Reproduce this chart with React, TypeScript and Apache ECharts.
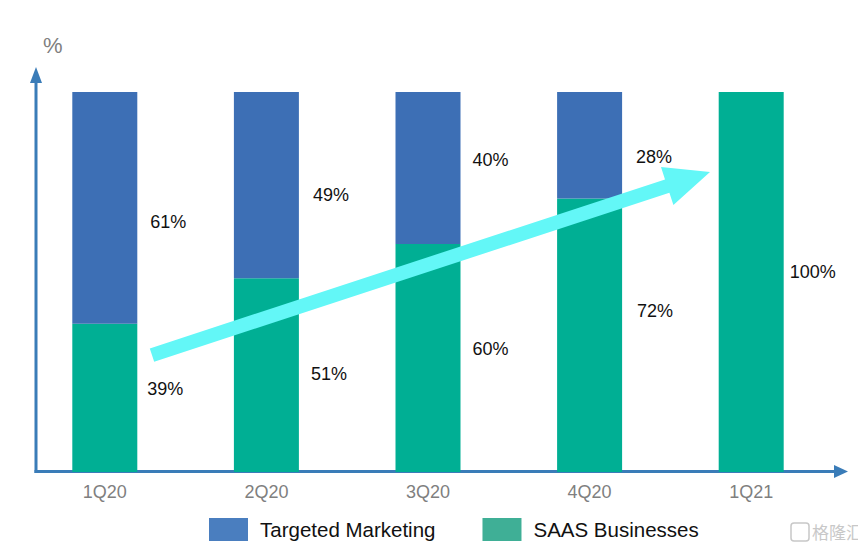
import React, { useEffect, useRef } from "react";
import * as echarts from "echarts";

const categories = ["1Q20", "2Q20", "3Q20", "4Q20", "1Q21"];
const saasBusinesses = [39, 51, 60, 72, 100];
const targetedMarketing = [61, 49, 40, 28, 0];
const seriesNames = ["Targeted Marketing", "SAAS Businesses"];
// label nudges (styling only)
const saasLabelOffsets = [[-2, -9], [0, -1], [0, -9], [3, -24], [-6, -10]];
const marketingLabelOffsets = [[1, 14], [2, 10], [0, -8], [2, 12], [0, 0]];

export default function App() {
  const ref = useRef<HTMLDivElement>(null);
  useEffect(() => {
    if (!ref.current) return;
    const chart = echarts.init(ref.current, null, { renderer: "svg" });
    const font = "'Liberation Sans', Arial, sans-serif";
    const mkData = (vals: number[], offs: number[][]) =>
      vals.map((v, i) => ({
        value: v,
        label: { show: v > 0, offset: offs[i] },
      }));
    // arrow polygon (decoration)
    const arrowPts = [
      [154.2, 361.7],
      [669.4, 192.7],
      [673.4, 205],
      [710, 172],
      [661, 167],
      [665, 179.4],
      [149.8, 348.4],
    ];
    const labelStyle = {
      show: true,
      position: "right",
      distance: 12,
      formatter: "{c}%",
      color: "#111111",
      fontSize: 18,
      fontFamily: font,
    };
    chart.setOption({
      animation: false,
      backgroundColor: "#ffffff",
      grid: { left: 24, right: 34, top: 92, bottom: 80 },
      legend: {
        left: 209,
        top: 518,
        padding: 0,
        itemWidth: 39,
        itemHeight: 23,
        itemGap: 47,
        icon: "rect",
        textStyle: { fontSize: 20.5, color: "#111111", fontFamily: font, padding: [4, 0, 0, 7] },
        data: [
          { name: seriesNames[0], itemStyle: { color: "#4A7EBF" } },
          { name: seriesNames[1], itemStyle: { color: "#3FAF96" } },
        ],
      },
      xAxis: {
        type: "category",
        data: categories,
        axisLine: { show: false },
        axisTick: { show: false },
        axisLabel: { color: "#7F7F7F", fontSize: 18, fontFamily: font, margin: 11 },
      },
      yAxis: {
        type: "value",
        min: 0,
        max: 100,
        show: false,
        splitLine: { show: false },
      },
      series: [
        {
          name: seriesNames[1],
          type: "bar",
          stack: "total",
          barWidth: 65,
          itemStyle: { color: "#00AF94" },
          label: labelStyle,
          data: mkData(saasBusinesses, saasLabelOffsets),
        },
        {
          name: seriesNames[0],
          type: "bar",
          stack: "total",
          barWidth: 65,
          itemStyle: { color: "#3D6FB5" },
          label: labelStyle,
          data: mkData(targetedMarketing, marketingLabelOffsets),
        },
      ],
      graphic: [
        {
          type: "polygon",
          shape: { points: arrowPts },
          style: { fill: "#63F7F7" },
          z: 10,
        },
        {
          type: "line",
          shape: { x1: 36, y1: 473, x2: 36, y2: 80 },
          style: { stroke: "#3A7CB8", lineWidth: 3 },
        },
        {
          type: "polygon",
          shape: { points: [[30, 83], [42, 83], [36, 67]] },
          style: { fill: "#3A7CB8" },
        },
        {
          type: "line",
          shape: { x1: 34.5, y1: 471.5, x2: 836, y2: 471.5 },
          style: { stroke: "#3A7CB8", lineWidth: 3 },
        },
        {
          type: "polygon",
          shape: { points: [[834, 465], [834, 478], [848, 471.5]] },
          style: { fill: "#3A7CB8" },
        },
        {
          type: "text",
          x: 43,
          y: 34,
          style: { text: "%", fontSize: 22, fill: "#7F7F7F", fontFamily: font },
        },
        {
          type: "rect",
          shape: { x: 791, y: 523, width: 18, height: 18, r: 3 },
          style: { fill: "none", stroke: "#C8C8C8", lineWidth: 1.5 },
        },
        {
          type: "text",
          x: 812,
          y: 523,
          style: {
            text: "格隆汇",
            fontSize: 17,
            fill: "#C8C8C8",
            fontFamily: "'Noto Sans CJK SC', sans-serif",
          },
        },
      ],
    });
    return () => chart.dispose();
  }, []);
  return <div ref={ref} style={{ width: 866, height: 552, margin: -8 }} />;
}
